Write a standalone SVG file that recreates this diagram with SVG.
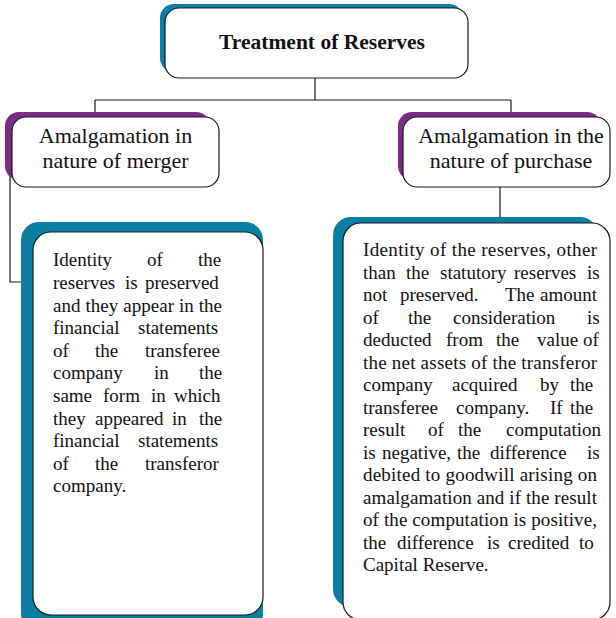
<svg xmlns="http://www.w3.org/2000/svg" width="616" height="618" viewBox="0 0 616 618">
<style>
.box{fill:#fff;stroke:#1a1a1a;stroke-width:1.2}
.teal{fill:#0a7fa4}
.purple{fill:#7a2b84}
.conn{stroke:#1a1a1a;stroke-width:1.2;fill:none}
.title{font-family:"Liberation Serif",serif;font-weight:bold;font-size:21.5px;fill:#111;text-anchor:middle}
.sub{font-family:"Liberation Serif",serif;font-size:22px;fill:#111;text-anchor:middle}
.body{font-family:"Liberation Serif",serif;font-size:19px;fill:#111}
</style>
<rect width="616" height="618" fill="#fff"/>
<g id="connectors">
<path class="conn" d="M315 78 V100 M95 100 H511 M95 100 V114 M511 100 V114 M500 187 V223 M10 163 V282 H22"/>
</g>
<g id="title">
<rect class="teal" x="160" y="4" width="303" height="68" rx="14"/>
<rect class="box" x="165" y="8" width="303" height="70" rx="14"/>
<text class="title" x="322" y="49">Treatment of Reserves</text>
</g>
<g id="merger">
<rect class="purple" x="5" y="112" width="205" height="68" rx="14"/>
<rect class="box" x="12" y="117" width="207" height="70" rx="14"/>
<text class="sub" x="115.5" y="143">Amalgamation in</text>
<text class="sub" x="115.5" y="168">nature of merger</text>
</g>
<g id="purchase">
<rect class="purple" x="398" y="112" width="203" height="68" rx="14"/>
<rect class="box" x="403" y="117" width="207" height="70" rx="14"/>
<text class="sub" x="511" y="143">Amalgamation in the</text>
<text class="sub" x="511" y="168">nature of purchase</text>
</g>
<g id="merger-detail">
<rect class="teal" x="21" y="222" width="242" height="410" rx="18"/>
<rect class="box" x="33" y="232" width="230" height="383" rx="18"/>
<text class="body" y="266"><tspan x="53">Identity</tspan><tspan x="147">of</tspan><tspan x="198">the</tspan></text>
<text class="body" y="289"><tspan x="53">reserves</tspan><tspan x="125">is</tspan><tspan x="145">preserved</tspan></text>
<text class="body" x="53" y="312" textLength="169" lengthAdjust="spacing">and they appear in the</text>
<text class="body" y="334"><tspan x="53">financial</tspan><tspan x="138">statements</tspan></text>
<text class="body" y="357"><tspan x="53">of</tspan><tspan x="95">the</tspan><tspan x="145">transferee</tspan></text>
<text class="body" y="379"><tspan x="53">company</tspan><tspan x="154">in</tspan><tspan x="199">the</tspan></text>
<text class="body" y="402"><tspan x="53">same</tspan><tspan x="103">form</tspan><tspan x="151">in</tspan><tspan x="174">which</tspan></text>
<text class="body" y="425"><tspan x="53">they</tspan><tspan x="95">appeared</tspan><tspan x="172">in</tspan><tspan x="199">the</tspan></text>
<text class="body" y="447"><tspan x="53">financial</tspan><tspan x="138">statements</tspan></text>
<text class="body" y="470"><tspan x="53">of</tspan><tspan x="95">the</tspan><tspan x="145">transferor</tspan></text>
<text class="body" x="53" y="492">company.</text>
</g>
<g id="purchase-detail">
<rect class="teal" x="333" y="217" width="265" height="390" rx="18"/>
<rect class="box" x="343" y="223" width="267" height="397" rx="18"/>
<text class="body" x="363" y="256" textLength="234" lengthAdjust="spacing">Identity of the reserves, other</text>
<text class="body" y="278.5"><tspan x="363">than</tspan><tspan x="406">the</tspan><tspan x="440">statutory</tspan><tspan x="514">reserves</tspan><tspan x="587">is</tspan></text>
<text class="body" y="301"><tspan x="363">not</tspan><tspan x="400">preserved.</tspan><tspan x="505">The</tspan><tspan x="540">amount</tspan></text>
<text class="body" y="323.5"><tspan x="363">of</tspan><tspan x="408">the</tspan><tspan x="453">consideration</tspan><tspan x="587">is</tspan></text>
<text class="body" y="346"><tspan x="363">deducted</tspan><tspan x="446">from</tspan><tspan x="496">the</tspan><tspan x="537">value</tspan><tspan x="583">of</tspan></text>
<text class="body" x="363" y="368.5" textLength="234" lengthAdjust="spacing">the net assets of the transferor</text>
<text class="body" y="391"><tspan x="363">company</tspan><tspan x="452">acquired</tspan><tspan x="540">by</tspan><tspan x="570">the</tspan></text>
<text class="body" y="413.5"><tspan x="363">transferee</tspan><tspan x="456">company.</tspan><tspan x="550">If</tspan><tspan x="570">the</tspan></text>
<text class="body" y="436"><tspan x="363">result</tspan><tspan x="428">of</tspan><tspan x="458">the</tspan><tspan x="506">computation</tspan></text>
<text class="body" y="458.5"><tspan x="363">is</tspan><tspan x="382">negative,</tspan><tspan x="457">the</tspan><tspan x="490">difference</tspan><tspan x="587">is</tspan></text>
<text class="body" x="363" y="481" textLength="234" lengthAdjust="spacing">debited to goodwill arising on</text>
<text class="body" x="363" y="503.5" textLength="234" lengthAdjust="spacing">amalgamation and if the result</text>
<text class="body" x="363" y="526" textLength="234" lengthAdjust="spacing">of the computation is positive,</text>
<text class="body" y="548.5"><tspan x="363">the</tspan><tspan x="397">difference</tspan><tspan x="487">is</tspan><tspan x="508">credited</tspan><tspan x="579">to</tspan></text>
<text class="body" x="363" y="571">Capital Reserve.</text>
</g>
</svg>
